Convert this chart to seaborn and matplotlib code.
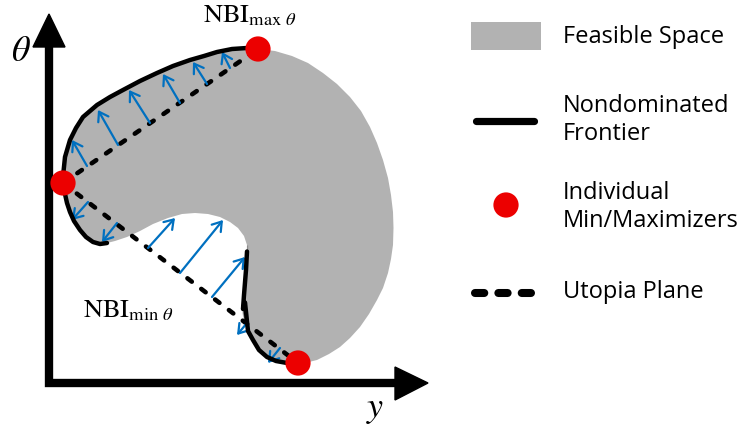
import matplotlib
matplotlib.use("Agg")
import matplotlib.pyplot as plt
import seaborn as sns
import numpy as np
import pandas as pd
from matplotlib.patches import Polygon, Rectangle

# ---------------- data (pixel space) ----------------
# right bulge of the feasible space (not part of the frontier)
bulge_x = [258, 275, 292, 308, 323, 337, 350, 361, 370, 377, 383, 388, 391, 393, 393.5, 393,
           391, 388, 383, 377, 369, 360, 350, 340, 329, 317, 305, 298]
bulge_y = [49, 51, 56, 63, 73, 84, 97, 111, 127, 143, 160, 178, 195, 212, 228, 245,
           259, 273, 288, 300, 314, 327, 338, 347, 354, 360, 363, 363]
# lower-right nondominated frontier
front_lr_x = [298, 287, 276, 267, 259, 253, 248, 245, 243, 243, 244, 245, 246, 247, 247]
front_lr_y = [363, 363, 361, 357, 350, 340, 331, 322, 313, 305, 295, 283, 270, 258, 245]
# notch of the feasible space (not part of the frontier)
notch_x = [247, 244, 238, 230, 220, 208, 195, 182, 168, 153, 140, 127, 115, 107]
notch_y = [245, 236, 228, 222, 217, 214, 213, 214, 218, 224, 231, 237, 241, 243]
# lower-left nondominated frontier
front_ll_x = [107, 100, 93, 86, 80, 74, 70, 67, 65, 63]
front_ll_y = [243, 244, 242, 237, 230, 221, 212, 203, 194, 183]
# upper nondominated frontier
front_up_x = [63, 63, 65, 70, 76, 83, 90, 97, 110, 123, 140, 157, 173, 190, 204, 217, 232, 247, 258]
front_up_y = [183, 170, 157, 140, 128, 117, 111, 105, 97, 90, 81, 73, 66, 60, 56, 52, 49, 48, 49]

# individual min/maximizers
extreme_x = [258, 63, 298]
extreme_y = [49, 183, 363]

# utopia planes
utopia_up_x = [63, 258]
utopia_up_y = [183, 49]
utopia_lo_x = [63, 298]
utopia_lo_y = [183, 363]

# NBI search arrows (base on utopia plane -> tip on frontier)
arrow_x0 = [87, 118, 150, 180, 207, 230, 88, 117, 148, 180, 212, 247, 280]
arrow_y0 = [166, 145, 123, 103, 84, 68, 202, 223, 248, 273, 297, 323, 348]
arrow_x1 = [72, 98, 129, 163, 193, 222, 72, 102, 175, 223, 245, 237, 268]
arrow_y1 = [140, 110, 90, 74, 62, 52, 220, 242, 218, 220, 257, 335, 363]

legend_labels = ["Feasible Space", "Nondominated\nFrontier",
                 "Individual\nMin/Maximizers", "Utopia Plane"]

GRAY = "#b2b2b2"
BLUE = "#0070c0"
RED = "#ec0000"

# ---------------- figure ----------------
sns.set_theme(style="white")
plt.rcParams["mathtext.fontset"] = "stix"
plt.rcParams["font.family"] = ["Open Sans", "DejaVu Sans"]
plt.rcParams["text.color"] = "black"

fig = plt.figure(figsize=(7.56, 4.25), dpi=100)
ax = fig.add_axes([0, 0, 1, 1])
ax.set_xlim(0, 756)
ax.set_ylim(425, 0)
ax.axis("off")

# feasible space
fx = bulge_x + front_lr_x + notch_x + front_ll_x + front_up_x
fy = bulge_y + front_lr_y + notch_y + front_ll_y + front_up_y
ax.fill(fx, fy, color=GRAY, lw=0, zorder=1)

# utopia planes
for ux, uy in [(utopia_up_x, utopia_up_y), (utopia_lo_x, utopia_lo_y)]:
    sns.lineplot(x=ux, y=uy, sort=False, ax=ax, color="black", lw=3.3,
                 linestyle=(0, (1.2, 2.6)), dash_capstyle="round", zorder=3)

# arrows
for x0, y0, x1, y1 in zip(arrow_x0, arrow_y0, arrow_x1, arrow_y1):
    ax.annotate("", xy=(x1, y1), xytext=(x0, y0),
                arrowprops=dict(arrowstyle="->,head_length=0.45,head_width=0.3",
                                color=BLUE, lw=1.6, shrinkA=0, shrinkB=0,
                                mutation_scale=14), zorder=4)

# nondominated frontier
for sx, sy in [(front_up_x, front_up_y), (front_ll_x, front_ll_y), (front_lr_x, front_lr_y)]:
    sns.lineplot(x=sx, y=sy, sort=False, ax=ax, color="black", lw=3.2,
                 solid_capstyle="round", solid_joinstyle="round", zorder=5)

# extreme points
sns.scatterplot(x=extreme_x, y=extreme_y, ax=ax, color=RED, s=330,
                edgecolor="none", zorder=6)

# axes with arrow heads
ax.plot([49, 49, 396], [46, 383, 383], color="black", lw=6,
        solid_joinstyle="miter", solid_capstyle="butt", zorder=2)
ax.add_patch(Polygon([[33, 47], [65, 47], [49, 14]], closed=True, color="black", zorder=2))
ax.add_patch(Polygon([[395, 367], [395, 400], [428, 383]], closed=True, color="black", zorder=2))

ax.text(21, 52, r"$\theta$", fontsize=26, ha="center", va="center")
ax.text(375, 408, r"$y$", fontsize=26, ha="center", va="center")

ax.text(203, 22, r"$\mathrm{NBI}_{\mathrm{max}\ \theta}$", fontsize=19, ha="left", va="baseline")
ax.text(83, 317, r"$\mathrm{NBI}_{\mathrm{min}\ \theta}$", fontsize=19, ha="left", va="baseline")

# legend (manual)
ax.add_patch(Rectangle((471, 22), 70, 28, color=GRAY, lw=0))
ax.plot([476, 534], [121, 121], color="black", lw=5.2, solid_capstyle="round")
ax.scatter([506], [205], s=330, color=RED, edgecolor="none")
ax.plot([475, 533], [293, 293], color="black", lw=5.8,
        linestyle=(0, (1.15, 1.75)), dash_capstyle="round")

tx = 563
fs = 17
ax.text(tx, 37, legend_labels[0], fontsize=fs, ha="left", va="center")
ax.text(tx, 120, legend_labels[1], fontsize=fs, ha="left", va="center", linespacing=1.25)
ax.text(tx, 207, legend_labels[2], fontsize=fs, ha="left", va="center", linespacing=1.25)
ax.text(tx, 292, legend_labels[3], fontsize=fs, ha="left", va="center")

fig.savefig("out.png", dpi=100)
